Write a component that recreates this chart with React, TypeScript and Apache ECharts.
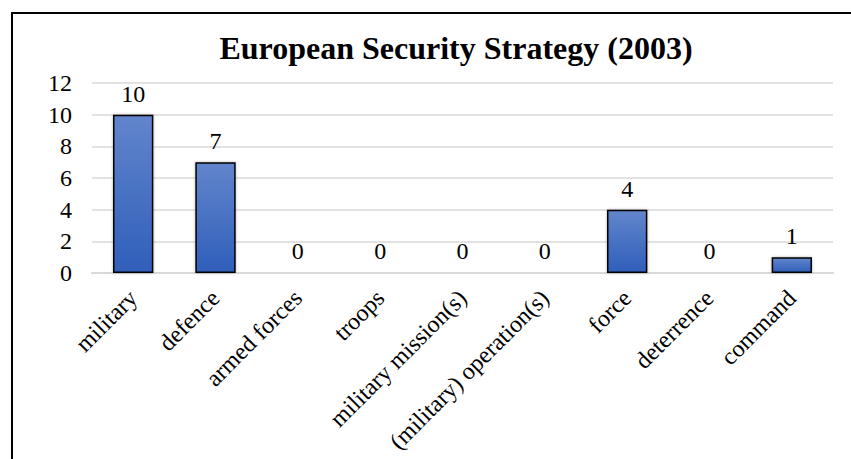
import React, { useEffect, useRef } from "react";
import * as echarts from "echarts";

const titleText = "European Security Strategy (2003)";
const categories = [
  "military",
  "defence",
  "armed forces",
  "troops",
  "military mission(s)",
  "(military) operation(s)",
  "force",
  "deterrence",
  "command",
];
const values = [10, 7, 0, 0, 0, 0, 4, 0, 1];
const yMin = 0;
const yMax = 12;
const yInterval = 2;

const FONT = '"Liberation Serif", "Times New Roman", serif';

export default function App() {
  const ref = useRef<HTMLDivElement>(null);
  useEffect(() => {
    if (!ref.current) return;
    const chart = echarts.init(ref.current, undefined, { renderer: "svg" });
    chart.setOption({
      animation: false,
      backgroundColor: "#ffffff",
      grid: { left: 92, right: 18, top: 83, bottom: 186, containLabel: false },
      graphic: [
        {
          type: "polyline",
          shape: { points: [[12, 459], [12, 13], [851, 13]] },
          style: { stroke: "#000", lineWidth: 2, fill: "none" },
          silent: true,
        },
        {
          type: "text",
          x: 456,
          y: 48,
          style: {
            text: titleText,
            font: `bold 32px ${FONT}`,
            fill: "#000",
            align: "center",
            verticalAlign: "middle",
          },
          silent: true,
        },
      ],
      xAxis: {
        type: "category",
        data: categories,
        axisTick: { show: false },
        axisLine: { show: true, lineStyle: { color: "#d9d9d9", width: 2 } },
        axisLabel: {
          interval: 0,
          rotate: 45,
          margin: 21,
          fontSize: 24,
          fontFamily: FONT,
          color: "#000",
        },
      },
      yAxis: {
        type: "value",
        min: yMin,
        max: yMax,
        interval: yInterval,
        axisLine: { show: false },
        axisTick: { show: false },
        splitLine: { lineStyle: { color: "#d9d9d9", width: 1.5 } },
        axisLabel: {
          margin: 20,
          fontSize: 24,
          fontFamily: FONT,
          color: "#000",
        },
      },
      series: [
        {
          type: "bar",
          data: values,
          barWidth: "49%",
          itemStyle: {
            color: new echarts.graphic.LinearGradient(0, 0, 0, 1, [
              { offset: 0, color: "#6285cc" },
              { offset: 1, color: "#2f5fba" },
            ]),
            borderColor: "#000",
            borderWidth: 1.5,
            shadowBlur: 3,
            shadowColor: "rgba(0,0,0,0.3)",
          },
          label: {
            show: true,
            position: "top",
            distance: 9,
            fontSize: 24,
            fontFamily: FONT,
            color: "#000",
          },
        },
      ],
    });
    return () => chart.dispose();
  }, []);
  return (
    <div
      ref={ref}
      style={{ position: "fixed", left: 0, top: 0, width: 851, height: 459 }}
    />
  );
}
